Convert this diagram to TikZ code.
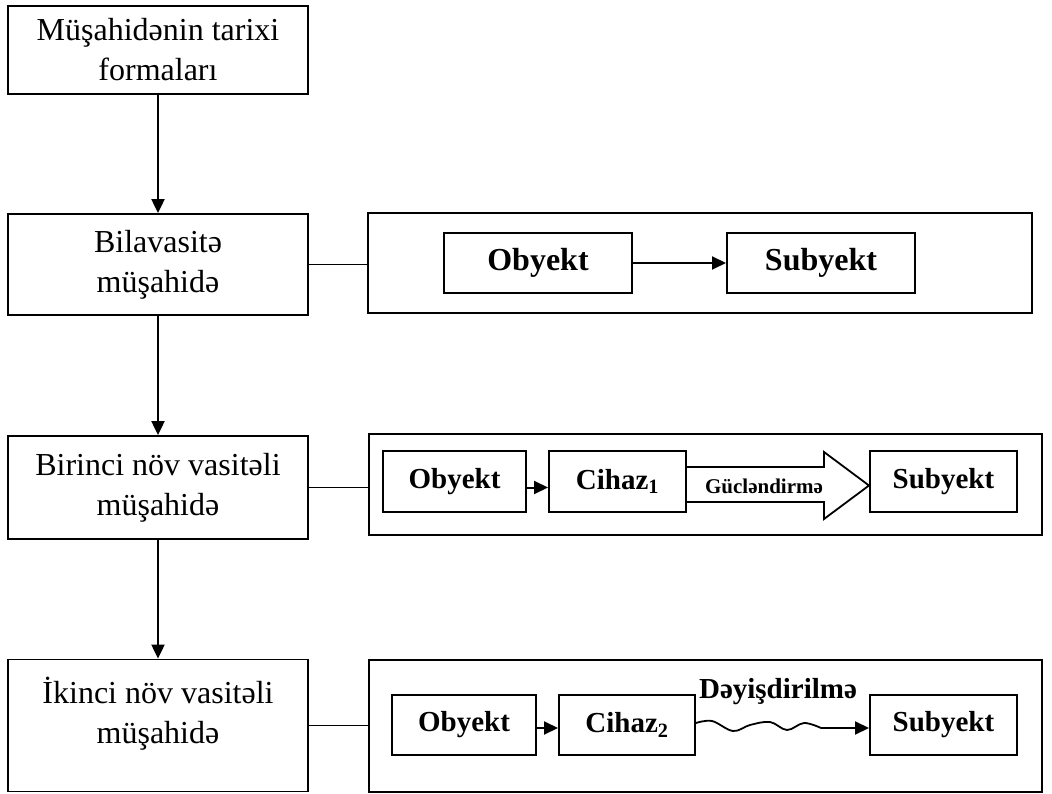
\documentclass[tikz,border=0pt]{standalone}
\usepackage{fontspec}
\setmainfont{Liberation Serif}
\usetikzlibrary{arrows.meta}
\begin{document}
\begin{tikzpicture}[x=1pt,y=-1pt,
  lbox/.style={draw,line width=1.8pt,minimum width=300pt,align=center,inner sep=0pt,font=\fontsize{32}{40}\selectfont},
  ltext/.style={align=center,inner sep=0pt,font=\fontsize{32}{40}\selectfont},
  rbox/.style={draw,line width=1.8pt,minimum width=673pt,inner sep=0pt},
  ibox/.style={draw,line width=2pt,minimum height=60pt,inner sep=0pt,font=\fontsize{29}{34}\selectfont\bfseries},
  arr/.style={line width=2pt,-{Triangle[length=14pt,width=13pt]}},
  con/.style={line width=1.8pt}]
\useasboundingbox (0,0) rectangle (1052,794);
% left column
\node[lbox,minimum height=88pt]  (b1) at (158,50)    {Müşahidənin tarixi\\formaları};
\node[lbox,minimum height=101pt] (b2) at (158,264.5) {Bilavasitə\\müşahidə};
\node[lbox,minimum height=103pt] (b3) at (158,487.5) {Birinci növ vasitəli\\müşahidə};
\node[lbox,minimum height=132pt] (b4) at (158,725.5) {};
\node[ltext] (b4t) at ([yshift=12pt]b4.center) {İkinci növ vasitəli\\müşahidə};
% right frames
\node[rbox,line width=2.6pt,minimum width=664pt,minimum height=100pt] (r1) at (700,263) {};
\node[rbox,minimum height=101pt] (r2) at (705.5,484.5) {};
\node[rbox,minimum height=132pt] (r3) at (705.5,726) {};
% row 1
\node[ibox,minimum width=188pt,font=\fontsize{32}{36}\selectfont\bfseries] (o1) at (538,263) {Obyekt};
\node[ibox,minimum width=188pt,font=\fontsize{32}{36}\selectfont\bfseries] (s1) at (821,263) {Subyekt};
% row 2
\node[ibox,minimum width=143pt,minimum height=61pt] (o2) at (454.5,481.5) {Obyekt};
\node[ibox,minimum width=137pt,minimum height=61pt] (c1) at (617.5,481.5) {Cihaz\textsubscript{1}};
\node[ibox,minimum width=147pt,minimum height=61pt] (s2) at (943.5,481.5) {Subyekt};
% row 3
\node[ibox,minimum width=144pt] (o3) at (464,725) {Obyekt};
\node[ibox,minimum width=136pt] (c2) at (627,725) {Cihaz\textsubscript{2}};
\node[ibox,minimum width=147pt] (s3) at (943.5,725) {Subyekt};
% vertical arrows
\draw[arr] (b1) -- (b2);
\draw[arr] (b2) -- (b3);
\draw[arr] (b3) -- (b4);
% horizontal links
\draw[con] (b2.east) -- (b2.east -| r1.west);
\draw[con] (b3.east) -- (b3.east -| r2.west);
\draw[con] (b4.east) -- (b4.east -| r3.west);
% inner arrows
\draw[arr] (o1) -- (s1);
\draw[arr] ([yshift=-6pt]o2.east) -- ([yshift=-6pt]o2.east -| c1.west);
\draw[arr] ([yshift=-3pt]o3.east) -- ([yshift=-3pt]o3.east -| c2.west);
% block arrow
\draw[line width=1.8pt] (686,467) -- (824,467) -- (824,452) -- (869,485.5) -- (824,519) -- (824,502) -- (686,502);
\node[font=\fontsize{21}{24}\selectfont\bfseries] (gl) at (764,486) {Gücləndirmə};
% wavy connector
\draw[line width=1.8pt] plot[smooth,tension=0.6] coordinates {(696,723) (712,721) (733,731) (750,725) (770,722) (787,730) (804,723) (821,728)};
\coordinate (we) at (821,728);
\draw[arr] (we) -- (we -| s3.west);
\node[font=\fontsize{29}{34}\selectfont\bfseries,anchor=base,inner sep=0pt] (dl) at (778,698) {Dəyişdirilmə};
\end{tikzpicture}
\end{document}
